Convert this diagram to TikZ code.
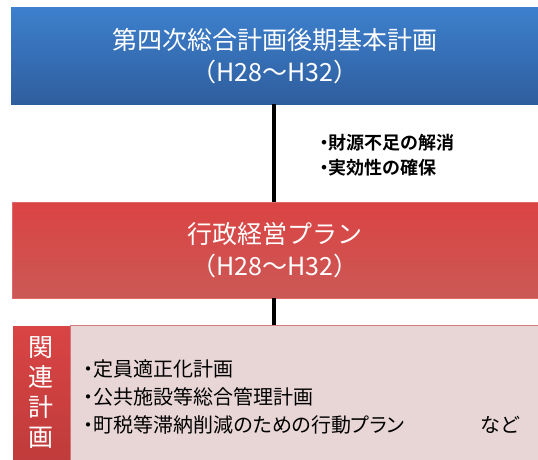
\documentclass[tikz,border=0pt]{standalone}
\usepackage{fontspec}
\setmainfont{Noto Sans CJK JP}[BoldFont={Noto Sans CJK JP Bold}]
\newfontfamily\propfont{Noto Sans CJK JP}[RawFeature=+palt, BoldFont={Noto Sans CJK JP Bold}]
\usetikzlibrary{positioning}
\definecolor{blueTop}{HTML}{3D80CD}
\definecolor{blueBot}{HTML}{2F5E9E}
\definecolor{redTop}{HTML}{DB4343}
\definecolor{redBot}{HTML}{CB5956}
\definecolor{tabTop}{HTML}{D94444}
\definecolor{tabBot}{HTML}{BF3B3B}
\definecolor{pinkFill}{HTML}{E8D5D6}
\tikzset{planbox/.style={anchor=north west, inner sep=0pt, align=center, text=white,
    font=\fontsize{25}{32}\selectfont}}
\tikzset{link/.style={line width=3.5pt, black}}

\begin{document}
\begin{tikzpicture}[x=1pt, y=-1pt]
            \useasboundingbox (0,0) rectangle (538,460);
            % main plans
            \node[planbox, top color=blueTop, bottom color=blueBot, minimum width=527pt, minimum height=97pt]
                (sogo) at (11,7) {第四次総合計画後期基本計画\\（H28～H32）};
            \node[planbox, top color=redTop, bottom color=redBot, draw=redTop!80!white, minimum width=526pt, minimum height=96pt]
                (gyosei) at (12,202) {行政経営プラン\\（H28～H32）};
            % related plans
            \node[anchor=north west, fill=pinkFill, draw=redBot!70!pinkFill, minimum width=472pt, minimum height=140pt]
                (kanren) at (70,325) {};
            \node[anchor=north west, top color=tabTop, bottom color=tabBot, minimum width=57pt, minimum height=140pt, inner sep=0pt]
                (tab) at (13,326) {};
            \node[text=white, align=center, font=\fontsize{25}{30}\selectfont] (tabtext) at (41,393) {関\\連\\計\\画};
            \node[anchor=west, align=left, font=\propfont\fontsize{20}{28}\selectfont] (list) at (80,397)
                {・定員適正化計画\\・公共施設等総合管理計画\\・町税等滞納削減のための行動プラン};
            \node[font=\propfont\fontsize{20}{28}\selectfont] (nado) at (500,425) {など};
            % connectors
            \draw[link] (sogo.south -| 274,0) -- (gyosei.north -| 274,0);
            \node[anchor=west, align=left, font=\propfont\bfseries\fontsize{18}{25}\selectfont]
                (aim) at (316,155) {・財源不足の解消\\・実効性の確保};
            \draw[link] (gyosei.south -| 274,0) -- (kanren.north -| 274,0);
\end{tikzpicture}
\end{document}
